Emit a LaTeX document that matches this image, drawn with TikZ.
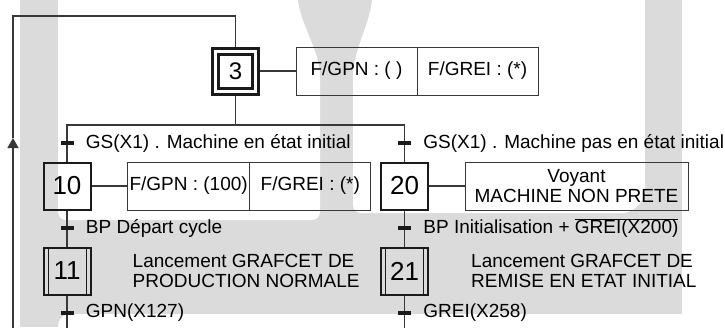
\documentclass[tikz,border=0pt]{standalone}
\usepackage{fontspec}
\setmainfont{Liberation Sans}
\usepackage{tikz}
\usetikzlibrary{arrows.meta, positioning}
\definecolor{grafink}{HTML}{1A1A1A}
\definecolor{graflink}{HTML}{383838}
\definecolor{grafwash}{HTML}{DBDBDB}

\begin{document}
\begin{tikzpicture}[
        x=1pt, y=-1pt,
        font=\fontsize{19}{20.5}\selectfont,
        stepbox/.style={draw=grafink, line width=2pt, minimum size=47pt, inner sep=0pt, font=\fontsize{26}{28}\selectfont},
        initstep/.style={stepbox, line width=3pt, double, double distance=3pt, minimum size=40pt, outer sep=4.5pt, font=\fontsize{24}{26}\selectfont},
        macrostep/.style={stepbox, path picture={\draw[grafink, line width=1pt] ([xshift=4.5pt]path picture bounding box.north west) -- ([xshift=4.5pt]path picture bounding box.south west) ([xshift=-4.5pt]path picture bounding box.north east) -- ([xshift=-4.5pt]path picture bounding box.south east);}},
        actbox/.style={draw=graflink, line width=1pt, minimum width=121pt, minimum height=48pt, inner sep=2pt, align=center, outer sep=0pt},
        link/.style={graflink, line width=1.3pt},
        trans/.style={fill=grafink, minimum width=13pt, minimum height=4pt, inner sep=0pt},
        cond/.style={inner sep=0pt},
        note/.style={align=left, inner sep=0pt}
    ]
        \useasboundingbox (0,0) rectangle (725,327);
        \fill[white] (0,0) rectangle (725,327);
        \fill[grafwash] (20,-10) rectangle (682,327);
        \fill[white, rounded corners=8pt] (58,-10) -- (58,220) -- (320,220) -- (320,85) .. controls (320,50) and (300,25) .. (297,-10) -- cycle;
        \fill[white, rounded corners=8pt] (373,-10) .. controls (370,25) and (353,50) .. (353,85) -- (353,213) -- (615,213) .. controls (633,213) and (645,201) .. (645,183) -- (645,-10) -- cycle;
        \fill[white, rounded corners=12pt] (58,340) -- (58,314) -- (740,314) -- (740,340) -- cycle;

        \node[initstep] (s3) at (235.5,71) {3};
        \node[actbox, right=36pt of s3] (a3l) {F/GPN : ( )};
        \node[actbox, right=0pt of a3l] (a3r) {F/GREI : (*)};

        \node[stepbox] (s10) at (67,186) {10};
        \node[actbox, right=36pt of s10] (a10l) {F/GPN : (100)};
        \node[actbox, right=0pt of a10l] (a10r) {F/GREI : (*)};
        \node[stepbox] (s20) at (404.5,186) {20};
        \node[actbox, minimum width=223pt, right=36pt of s20] (a20) {Voyant\\MACHINE NON PRETE};

        \node[macrostep, below=36pt of s10] (s11) {11};
        \node[note, right=41pt of s11] (n11) {Lancement GRAFCET DE\\PRODUCTION NORMALE};
        \node[macrostep, below=36pt of s20] (s21) {21};
        \node[note, right=42pt of s21] (n21) {Lancement GRAFCET DE\\REMISE EN ETAT INITIAL};

        \coordinate (div) at (235.5,125);
        \coordinate (divl) at (67,125);
        \coordinate (divr) at (404.5,125);
        \coordinate (endl) at (67,330);
        \coordinate (endr) at (404.5,330);
        \coordinate (loopin) at (13,330);
        \coordinate (looptip) at (13,138);
        \coordinate (looptop) at (13,16);

        \draw[link] (s3) -- (a3l);
        \draw[link] (s10) -- (a10l);
        \draw[link] (s20) -- (a20);
        \draw[link] (s3) -- (div);
        \draw[link] (s10) -- (divl) -- (divr) -- (s20);
        \draw[link] (s10) -- (s11);
        \draw[link] (s20) -- (s21);
        \draw[link] (s11) -- (endl);
        \draw[link] (s21) -- (endr);
        \draw[link, -{Triangle[length=10pt, width=11pt]}] (loopin) -- (looptip);
        \draw[link] (looptip) -- (looptop) -| (s3);

        \node[trans] (t1) at (67,143) {};
        \node[trans] (t2) at (404.5,143) {};
        \node[trans] (t10) at (67,228) {};
        \node[trans] (t20) at (404.5,228) {};
        \node[trans] (t11) at (67,313) {};
        \node[trans] (t21) at (404.5,313) {};

        \node[cond, right=12pt of t1] (c1) {GS(X1) . Machine en état initial};
        \node[cond, right=12pt of t2] (c2) {GS(X1) . Machine pas en état initial};
        \node[cond, right=12pt of t10] (c10) {BP Départ cycle};
        \node[cond, right=12pt of t20] (c20) {BP Initialisation + $\overline{\mbox{GREI(X200)}}$};
        \node[cond, right=12pt of t11] (c11) {GPN(X127)};
        \node[cond, right=12pt of t21] (c21) {GREI(X258)};
    \end{tikzpicture}
\end{document}
